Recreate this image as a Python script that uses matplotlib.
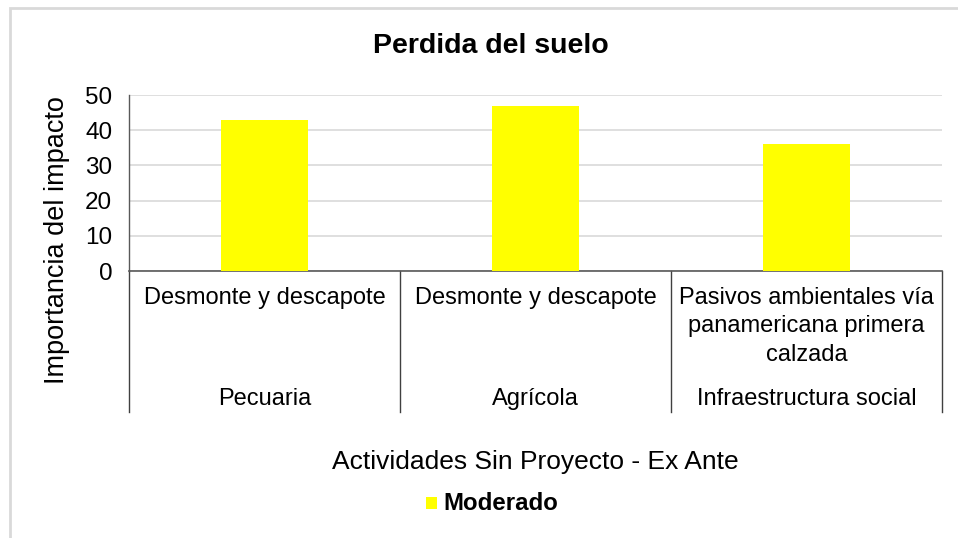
import matplotlib
matplotlib.use("Agg")
import matplotlib.pyplot as plt
from matplotlib.patches import Rectangle
from matplotlib.lines import Line2D
import matplotlib.transforms as mtransforms

plt.rcParams['font.family'] = ['Liberation Sans', 'DejaVu Sans']

# Data
activities = ["Desmonte y descapote", "Desmonte y descapote",
              "Pasivos ambientales vía\npanamericana primera\ncalzada"]
sectors = ["Pecuaria", "Agrícola", "Infraestructura social"]
importance = [43, 47, 36]
series_name = "Moderado"
yticks = [0, 10, 20, 30, 40, 50]

W, H = 958, 538
fig = plt.figure(figsize=(W / 100, H / 100), dpi=100)

# light frame around the chart area
fig.patches.append(Rectangle((10 / W, -0.2), 1.2, 1.2 - 8 / H, transform=fig.transFigure,
                             fill=False, edgecolor="#d9d9d9", linewidth=2.0))

x0, x1, ytop, ybot = 129, 942, 95, 271
ax = fig.add_axes([x0 / W, 1 - ybot / H, (x1 - x0) / W, (ybot - ytop) / H])

xs = list(range(len(importance)))
ax.bar(xs, importance, width=0.32, color="#FFFF00", zorder=3)
ax.set_xlim(-0.5, len(importance) - 0.5)
ax.set_ylim(0, 50)
ax.set_yticks(yticks)
ax.tick_params(axis="y", length=0, labelsize=17.5, pad=12, colors="#000000")
ax.set_xticks([])
ax.grid(axis="y", color="#d9d9d9", linewidth=1.2, zorder=0)
for s in ["top", "right"]:
    ax.spines[s].set_visible(False)
ax.spines["left"].set_color("#595959")
ax.spines["bottom"].set_color("#595959")
ax.spines["left"].set_linewidth(1.0)
ax.spines["bottom"].set_linewidth(1.2)

# two-level category axis
trans = mtransforms.blended_transform_factory(ax.transData, ax.transAxes)
depth = -(412 - ybot) / (ybot - ytop)
for xb in [-0.5 + i for i in range(len(importance) + 1)]:
    ax.add_line(Line2D([xb, xb], [0, depth], transform=trans, color="#404040",
                       linewidth=1.0, clip_on=False))
for i, (act, sec) in enumerate(zip(activities, sectors)):
    ax.text(i, -(287 - ybot) / (ybot - ytop), act, transform=trans, ha="center", va="top",
            fontsize=17, linespacing=1.38, color="#000000")
    ax.text(i, -(399 - ybot) / (ybot - ytop), sec, transform=trans, ha="center", va="center",
            fontsize=17, color="#000000")

fig.text(57 / W, 1 - 240 / H, "Importancia del impacto", rotation=90,
         ha="center", va="center", fontsize=19.5)

fig.text(491 / W, 1 - 46 / H, "Perdida del suelo", ha="center", va="center",
         fontsize=20.5, fontweight="bold")
fig.text(535 / W, 1 - 462 / H, "Actividades Sin Proyecto - Ex Ante", ha="center",
         va="center", fontsize=19)

fig.patches.append(Rectangle((426 / W, 1 - 509 / H), 11 / W, 12 / H,
                             transform=fig.transFigure, facecolor="#FFFF00", edgecolor="none"))
fig.text(443 / W, 1 - 503 / H, series_name, ha="left", va="center",
         fontsize=17.3, fontweight="bold")

fig.savefig("out.png", dpi=100)
